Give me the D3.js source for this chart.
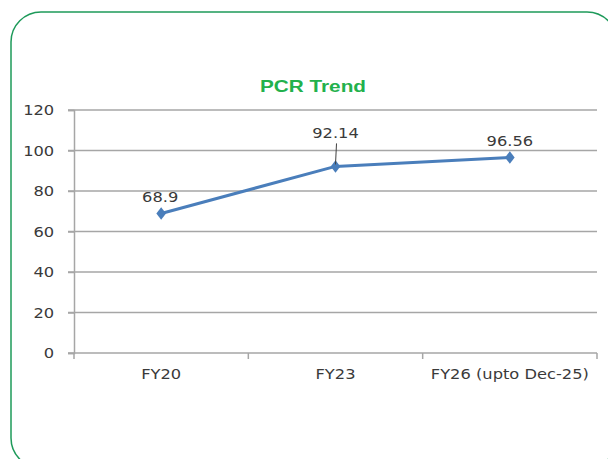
<!DOCTYPE html>
<html>
<head>
<meta charset="utf-8">
<script src="https://cdn.jsdelivr.net/npm/d3@7"></script>
<style>
  body { margin: 0; background: #fff; }
  svg { display: block; }
</style>
</head>
<body>
<div id="chart"></div>
<script>
const categories = ['FY20', 'FY23', 'FY26 (upto Dec-25)'];
const pcrValues = [68.9, 92.14, 96.56];
const valueLabels = ['68.9', '92.14', '96.56'];
const yTicks = [0, 20, 40, 60, 80, 100, 120];

const width = 608, height = 459;
const margin = { left: 74, right: 11, top: 110, bottom: 106 };

const svg = d3.select('#chart').append('svg')
    .attr('width', width)
    .attr('height', height);

// green rounded frame, cut by the right and bottom edges
svg.append('rect')
    .attr('x', 11).attr('y', 12)
    .attr('width', 606).attr('height', 456)
    .attr('rx', 30).attr('ry', 30)
    .attr('fill', 'none')
    .attr('stroke', '#1e9a5a')
    .attr('stroke-width', 1.5);

svg.append('text')
    .attr('x', 260).attr('y', 92)
    .attr('font-family', 'Liberation Sans, Arial, sans-serif')
    .attr('font-weight', 'bold')
    .attr('font-size', 16.5)
    .attr('textLength', 106)
    .attr('lengthAdjust', 'spacingAndGlyphs')
    .attr('fill', '#22b14c')
    .text('PCR Trend');

const x = d3.scaleBand()
    .domain(categories)
    .range([margin.left, width - margin.right]);

const y = d3.scaleLinear()
    .domain([0, 120])
    .range([height - margin.bottom, margin.top]);

const grid = '#a6a6a6';
const textColor = '#3a3a3a';
const font = 'DejaVu Sans, Verdana, sans-serif';
const fontSize = 14.8;
const stretch = 'scale(1.1,1)';

// gridlines
svg.append('g')
    .selectAll('line')
    .data(yTicks)
    .join('line')
    .attr('x1', margin.left - 6)
    .attr('x2', width - margin.right)
    .attr('y1', d => y(d))
    .attr('y2', d => y(d))
    .attr('stroke', grid)
    .attr('stroke-width', 1.5);

// y axis
const yAxis = svg.append('g')
    .attr('transform', `translate(${margin.left},0)`)
    .call(d3.axisLeft(y).tickValues(yTicks).tickSize(6).tickPadding(12));
yAxis.select('.domain').attr('stroke', grid).attr('stroke-width', 1.5);
yAxis.selectAll('.tick line').attr('stroke', grid).attr('stroke-width', 1.5);
yAxis.selectAll('.tick text')
    .attr('font-family', font).attr('font-size', fontSize).attr('fill', textColor)
    .attr('transform', stretch);

// x axis with ticks on category boundaries
const xAxis = svg.append('g')
    .attr('transform', `translate(0,${y(0)})`)
    .call(d3.axisBottom(x).tickSize(0).tickPadding(15));
xAxis.select('.domain').remove();
xAxis.selectAll('.tick text')
    .attr('font-family', font).attr('font-size', fontSize).attr('fill', textColor)
    .attr('transform', stretch);

const bounds = categories.map(c => x(c)).concat([x(categories[categories.length - 1]) + x.bandwidth()]);
svg.append('g')
    .selectAll('line')
    .data(bounds)
    .join('line')
    .attr('x1', d => d).attr('x2', d => d)
    .attr('y1', y(0)).attr('y2', y(0) + 6)
    .attr('stroke', grid)
    .attr('stroke-width', 1.5);

const cx = c => x(c) + x.bandwidth() / 2;

// line
const line = d3.line()
    .x((d, i) => cx(categories[i]))
    .y(d => y(d));

svg.append('path')
    .datum(pcrValues)
    .attr('d', line)
    .attr('fill', 'none')
    .attr('stroke', '#4a7ebb')
    .attr('stroke-width', 3)
    .attr('stroke-linejoin', 'round');

// diamond markers
svg.append('g')
    .selectAll('path')
    .data(pcrValues)
    .join('path')
    .attr('d', d3.symbol(d3.symbolDiamond, 56))
    .attr('transform', (d, i) => `translate(${cx(categories[i])},${y(d)}) scale(1.2,0.9)`)
    .attr('fill', '#4a7ebb');

// data labels
const labelOffset = [11, 28, 11];
svg.append('g')
    .selectAll('g')
    .data(pcrValues)
    .join('g')
    .attr('transform', (d, i) => `translate(${cx(categories[i]) + (i === 0 ? -1 : 0)},${y(d) - labelOffset[i]})`)
    .append('text')
    .attr('transform', stretch)
    .attr('text-anchor', 'middle')
    .attr('font-family', font)
    .attr('font-size', fontSize)
    .attr('fill', textColor)
    .text((d, i) => valueLabels[i]);

// leader line for the middle label
svg.append('line')
    .attr('x1', cx(categories[1]) + 1)
    .attr('x2', cx(categories[1]))
    .attr('y1', y(pcrValues[1]) - 23)
    .attr('y2', y(pcrValues[1]) - 2)
    .attr('stroke', '#404040')
    .attr('stroke-width', 1);
</script>
</body>
</html>
